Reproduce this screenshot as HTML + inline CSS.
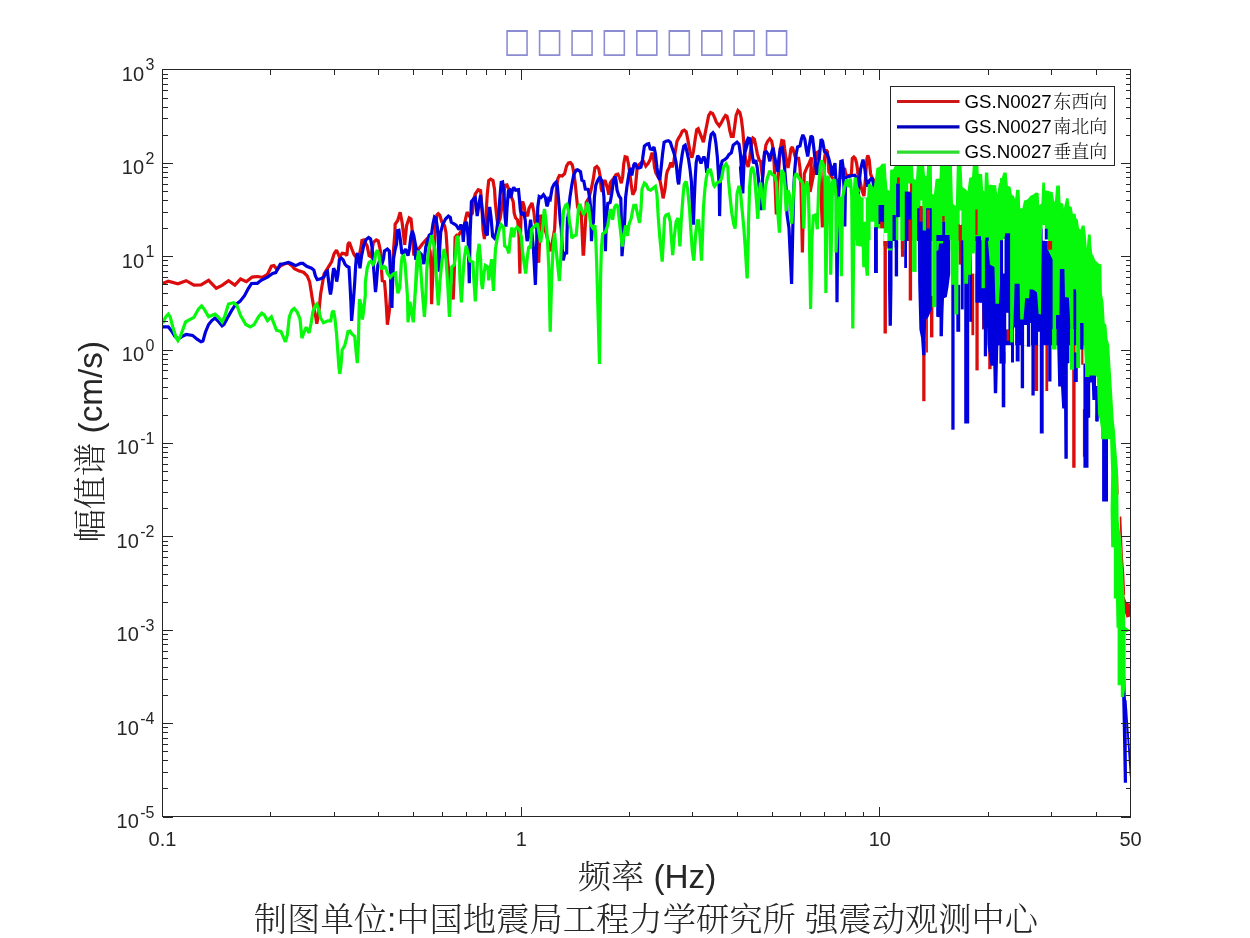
<!DOCTYPE html>
<html lang="zh"><head><meta charset="utf-8"><title>Fourier amplitude spectrum</title>
<style>html,body{margin:0;padding:0;background:#fff}body{width:1250px;height:938px;overflow:hidden}</style></head>
<body>
<svg width="1250" height="938" viewBox="0 0 1250 938" style="display:block">
<rect x="0" y="0" width="1250" height="938" fill="#fff"/>
<clipPath id="c"><rect x="162.5" y="69.5" width="968.0" height="747.0"/></clipPath>
<g clip-path="url(#c)" fill="none" stroke-width="3.2" stroke-linejoin="miter" stroke-miterlimit="2" stroke-linecap="butt">
<path d="M162.6,283.5 L168.3,281.2 L177.9,283.8 L186.2,280.7 L193.9,285.1 L201.0,284.8 L208.6,280.3 L216.3,288.3 L222.1,285.4 L228.5,280.7 L234.9,285.1 L240.6,279.0 L246.4,281.6 L252.2,277.1 L257.3,276.5 L262.4,277.4 L267.5,274.3 L271.4,266.2 L273.9,265.6 L277.1,269.4 L280.3,266.2 L283.5,264.3 L288.0,263.0 L291.8,265.6 L294.4,268.8 L299.5,271.1 L300.0,271.1 L303.8,272.5 L307.2,275.9 L309.6,281.6 L311.0,290.3 L312.5,299.9 L313.9,307.6 L315.8,317.2 L316.8,323.8 L318.0,317.2 L319.2,308.5 L320.6,294.1 L322.6,282.6 L324.0,274.0 L328.8,266.3 L331.7,261.5 L334.1,253.8 L336.5,250.2 L339.4,256.7 L342.2,253.3 L345.1,253.8 L346.8,255.7 L348.0,244.2 L349.4,242.3 L351.8,249.0 L354.2,254.8 L356.2,257.2 L359.0,256.7 L361.0,247.1 L361.9,240.4 L363.8,239.9 L367.2,246.1 L369.1,255.7 L371.0,256.7 L373.4,242.3 L376.3,239.9 L378.2,240.8 L379.7,247.1 L381.1,255.7 L381.6,271.1 L382.3,280.7 L384.5,281.6 L385.4,292.2 L386.4,306.6 L387.4,324.7 L389.3,311.4 L390.7,292.2 L392.2,268.2 L393.6,249.0 L395.0,230.8 L395.1,224.3 L397.7,220.5 L400.2,212.2 L402.2,223.0 L404.7,244.8 L406.6,225.6 L409.2,217.9 L411.0,219.0 L411.9,227.6 L412.9,242.0 L413.8,255.3 L416.7,251.6 L419.6,247.7 L422.5,243.8 L426.3,239.6 L428.2,243.0 L430.2,251.6 L431.1,268.8 L431.6,304.3 L432.6,278.4 L434.0,252.5 L435.4,227.6 L436.9,215.1 L438.3,213.7 L439.8,215.1 L441.7,221.8 L444.6,225.7 L446.0,232.4 L447.0,246.8 L447.4,259.2 L450.3,283.2 L453.2,299.5 L454.4,268.8 L455.1,237.2 L456.6,235.3 L458.0,236.2 L460.9,231.4 L463.8,227.6 L465.7,218.0 L467.1,212.2 L469.5,216.1 L472.4,213.2 L473.8,198.8 L475.3,194.0 L478.2,189.7 L480.6,190.6 L482.0,208.4 L483.0,229.5 L484.4,239.1 L485.8,218.0 L487.3,194.0 L488.7,180.6 L490.6,179.1 L493.0,180.6 L494.5,189.2 L495.4,203.6 L496.9,218.0 L497.8,224.7 L500.2,218.0 L503.1,198.8 L505.0,185.4 L507.0,184.9 L508.4,188.2 L510.3,194.0 L513.2,201.7 L514.2,213.2 L515.6,218.0 L517.5,219.9 L518.5,227.6 L519.0,237.2 L519.4,256.4 L519.9,273.6 L520.4,237.2 L521.4,203.6 L522.8,201.7 L524.2,206.5 L525.2,213.2 L527.6,216.1 L529.0,208.4 L532.0,202.9 L533.9,212.0 L534.9,221.6 L536.8,229.2 L538.7,262.8 L540.6,214.8 L545.0,229.2 L550.7,251.3 L554.6,229.2 L555.0,221.6 L556.5,188.0 L557.9,178.4 L559.4,175.5 L562.2,176.0 L564.6,173.6 L566.6,165.9 L568.5,163.0 L570.4,162.6 L572.3,165.0 L573.8,172.6 L575.2,183.2 L576.6,197.6 L577.6,207.2 L581.4,215.7 L583.1,254.1 L583.6,254.1 L585.8,216.7 L586.2,202.4 L589.1,197.6 L591.5,188.0 L593.4,178.4 L594.9,167.8 L596.8,166.4 L598.7,168.8 L600.2,176.5 L601.1,188.0 L602.1,191.8 L603.5,182.2 L605.0,180.3 L607.4,188.0 L608.8,194.7 L610.2,183.2 L611.2,181.3 L613.6,178.4 L616.0,174.6 L617.9,174.1 L619.8,178.4 L621.3,183.2 L622.7,176.5 L623.7,164.0 L625.1,156.8 L627.0,157.3 L628.5,164.0 L629.9,173.6 L631.4,186.1 L632.8,194.7 L635.2,189.9 L636.2,178.4 L637.1,168.8 L638.6,165.0 L640.6,163.4 L643.4,161.4 L645.8,166.2 L648.2,163.4 L650.2,159.5 L652.1,152.8 L653.5,157.6 L654.5,167.2 L655.9,173.0 L659.8,179.6 L661.7,189.2 L663.1,198.3 L665.0,189.2 L666.5,174.8 L667.4,171.0 L669.4,167.2 L670.8,162.4 L672.2,167.2 L673.7,162.4 L675.1,152.8 L677.0,141.3 L679.0,137.4 L680.4,135.5 L682.3,131.2 L684.2,130.2 L686.2,131.7 L687.6,138.4 L689.0,146.1 L690.5,153.8 L691.9,157.6 L693.4,151.8 L695.3,138.4 L696.7,129.8 L698.2,128.8 L700.1,133.6 L702.0,138.4 L703.4,142.2 L704.9,134.6 L706.8,125.0 L708.7,115.4 L710.6,112.5 L712.6,113.4 L714.5,117.3 L716.4,122.1 L719.3,125.9 L721.2,123.0 L723.6,118.2 L725.5,115.4 L727.0,116.3 L728.4,122.1 L729.8,130.7 L731.3,136.5 L733.2,136.5 L734.6,126.9 L736.1,115.4 L738.0,110.6 L739.9,112.5 L741.4,119.2 L742.8,130.7 L743.8,143.2 L744.7,153.8 L745.8,160.3 L748.2,167.0 L749.6,158.4 L751.0,146.9 L753.0,138.2 L754.4,139.2 L755.8,145.9 L757.3,153.6 L759.2,160.3 L760.6,161.3 L761.6,169.9 L762.6,177.6 L764.0,158.4 L765.9,145.0 L767.8,141.1 L769.8,138.7 L771.7,141.1 L773.1,148.8 L774.1,163.2 L775.0,182.4 L776.3,214.5 L777.4,187.2 L778.9,168.0 L780.3,148.8 L781.8,140.6 L783.7,141.1 L784.6,148.8 L786.1,158.4 L788.0,168.0 L789.4,160.3 L790.9,148.8 L792.3,146.9 L793.8,151.7 L795.7,158.4 L798.6,158.4 L800.0,168.0 L801.0,187.2 L802.4,252.4 L803.4,206.4 L804.3,173.8 L806.7,168.0 L809.1,163.2 L811.5,157.4 L810.6,177.6 L810.1,192.0 L813.0,177.6 L814.9,163.2 L816.8,152.6 L818.2,151.7 L819.7,168.0 L821.1,196.8 L822.4,227.4 L823.5,187.2 L824.5,158.4 L825.9,149.8 L827.4,151.7 L828.3,163.2 L828.8,171.8 L832.2,177.6 L836.0,182.4 L840.8,177.6 L844.6,168.0 L845.6,173.8 L847.5,175.7 L849.9,175.7 L851.4,173.8 L852.3,158.4 L853.8,157.0 L855.2,158.4 L856.6,163.2 L858.1,173.8 L858.0,173.8 L859.6,178.8 L861.5,188.4 L863.9,196.1 L865.4,178.8 L866.8,159.6 L867.8,155.3 L869.2,159.6 L870.6,174.0 L872.6,178.8 L875.0,181.7 L875.7,188.4" stroke="#dc0c0c"/>
<path d="M162.6,326.8 L168.3,326.8 L171.5,330.9 L174.7,336.0 L177.9,339.2 L181.8,336.6 L186.2,334.5 L192.6,335.4 L197.1,339.2 L201.0,341.8 L202.9,341.1 L205.4,332.2 L208.6,324.5 L211.8,320.6 L215.0,318.1 L218.9,321.9 L222.1,325.8 L224.0,324.5 L226.6,319.4 L231.7,310.4 L235.5,304.6 L240.0,301.4 L244.5,295.7 L248.3,288.6 L251.5,283.5 L257.3,283.3 L261.1,280.3 L267.5,277.1 L272.6,273.5 L275.8,272.6 L280.3,264.3 L283.5,263.7 L288.6,262.4 L291.8,263.7 L295.7,265.6 L300.8,263.3 L300.0,263.4 L302.9,263.4 L306.7,266.3 L311.5,268.2 L313.9,270.1 L315.4,275.9 L317.3,279.7 L320.6,278.8 L324.0,276.8 L325.9,272.0 L327.4,271.1 L328.3,278.8 L329.3,287.4 L330.5,294.6 L331.7,287.4 L332.6,275.9 L333.6,268.2 L335.0,271.1 L336.7,281.6 L337.9,274.9 L339.4,259.6 L341.3,258.1 L343.2,260.0 L345.1,264.4 L347.0,266.3 L349.0,267.2 L349.9,282.6 L350.9,301.8 L351.6,320.9 L353.3,301.8 L354.7,282.6 L355.7,265.3 L356.6,254.8 L357.6,253.3 L360.0,268.2 L361.4,256.7 L363.8,245.2 L366.2,239.4 L368.6,237.5 L370.6,238.9 L372.0,247.1 L373.4,265.3 L374.9,284.5 L375.5,292.2 L376.3,284.5 L377.8,265.3 L379.7,260.5 L381.6,265.3 L383.5,258.6 L384.5,250.9 L387.4,249.0 L389.3,250.9 L390.2,268.2 L391.2,292.2 L391.9,308.0 L392.6,282.6 L393.6,258.6 L395.0,250.0 L396.5,244.2 L397.4,230.8 L398.9,230.3 L400.3,239.4 L401.8,252.8 L403.2,253.8 L405.6,249.0 L408.0,255.7 L409.4,249.0 L410.9,236.5 L412.3,230.8 L413.8,235.6 L415.2,243.2 L416.6,250.0 L412.4,231.4 L414.3,242.0 L415.8,259.8 L418.6,251.6 L421.5,254.5 L423.9,264.0 L425.8,246.8 L429.2,235.3 L431.6,233.4 L433.0,223.8 L434.5,217.0 L435.9,218.0 L437.4,227.6 L438.3,237.2 L439.1,271.8 L439.8,246.8 L440.7,232.4 L442.6,224.7 L445.5,219.0 L448.4,216.1 L450.3,217.5 L451.3,222.3 L453.2,223.3 L456.1,225.2 L459.0,229.5 L460.9,224.7 L462.3,227.6 L463.3,242.0 L464.7,223.8 L466.6,221.8 L468.1,237.2 L469.3,283.2 L470.0,237.2 L471.4,201.7 L473.8,198.8 L475.3,197.8 L477.2,216.1 L479.1,203.6 L480.6,195.0 L482.0,208.4 L483.4,220.9 L485.8,233.4 L487.3,235.3 L488.2,218.0 L489.7,207.0 L491.1,218.0 L492.6,236.2 L494.5,238.2 L496.4,232.4 L498.3,218.0 L500.2,194.0 L501.2,182.5 L502.6,182.0 L504.1,194.0 L505.0,216.1 L506.0,226.6 L507.0,208.4 L508.4,191.1 L509.8,190.2 L510.8,197.8 L512.2,191.1 L513.7,187.3 L515.6,190.2 L518.5,189.7 L519.4,198.8 L520.4,210.3 L521.8,215.1 L523.8,212.2 L525.2,219.9 L526.2,232.4 L527.1,241.0 L528.6,237.2 L530.6,219.7 L533.4,248.4 L535.4,284.9 L536.8,238.8 L537.8,207.2 L539.2,196.6 L541.1,197.6 L543.5,194.7 L545.4,197.6 L546.9,206.2 L547.8,204.3 L548.8,198.6 L550.2,199.5 L552.2,188.0 L554.1,184.2 L556.0,182.2 L557.4,186.1 L558.4,197.6 L559.4,209.1 L560.3,221.6 L561.3,229.2 L562.2,248.4 L563.2,260.4 L565.1,252.2 L566.6,254.1 L567.0,234.0 L567.5,217.7 L568.0,216.8 L569.9,197.6 L571.8,185.1 L573.8,174.6 L576.2,170.2 L577.6,169.8 L580.5,171.7 L581.9,180.3 L583.8,181.3 L585.3,189.0 L588.2,189.4 L589.6,197.6 L590.6,207.2 L591.0,224.4 L591.5,241.2 L592.5,224.4 L593.4,222.6 L594.4,197.6 L595.8,185.1 L597.8,180.3 L599.7,177.0 L601.6,180.3 L603.0,188.0 L604.0,197.6 L604.5,216.8 L605.4,251.3 L606.4,216.8 L607.8,203.4 L610.2,202.4 L611.7,193.8 L613.6,180.3 L615.0,176.5 L616.0,180.3 L617.0,189.9 L618.9,195.7 L620.8,198.6 L621.3,216.8 L622.0,256.1 L624.6,221.6 L625.6,197.6 L627.0,186.1 L629.0,173.6 L630.4,167.8 L631.8,175.5 L633.8,165.0 L635.2,163.0 L637.1,167.8 L639.5,167.8 L641.0,167.2 L642.5,159.5 L644.4,146.1 L646.8,144.2 L648.7,143.7 L650.2,149.0 L652.1,149.4 L654.0,147.0 L655.4,153.8 L656.9,167.2 L658.3,176.8 L659.8,179.7 L661.2,167.2 L662.6,153.8 L664.1,142.2 L666.0,141.3 L668.4,140.8 L670.3,142.2 L672.2,148.0 L674.2,153.8 L676.1,162.4 L677.0,172.0 L678.0,181.6 L678.7,184.4 L680.4,167.2 L682.3,153.8 L683.8,146.1 L685.2,145.1 L686.6,149.9 L688.6,159.5 L690.0,169.1 L691.4,181.6 L692.4,208.4 L693.4,224.7 L694.3,198.8 L695.3,176.8 L696.2,162.4 L697.7,155.7 L699.1,157.6 L701.0,163.4 L702.5,159.5 L703.9,156.6 L705.4,160.5 L706.8,172.9 L708.2,157.6 L709.7,143.2 L711.1,134.6 L713.0,132.6 L714.5,134.6 L715.9,143.2 L717.4,157.6 L718.3,172.0 L719.3,189.2 L719.6,216.1 L720.2,189.2 L720.7,167.2 L722.2,161.0 L725.0,159.5 L727.0,157.6 L728.9,154.7 L731.3,152.8 L733.2,145.1 L735.6,143.2 L737.0,142.2 L739.0,144.2 L740.4,153.8 L741.4,167.2 L742.3,179.6 L742.8,193.5 L743.8,167.2 L745.2,148.0 L747.1,140.3 L749.0,138.4 L740.5,168.0 L742.4,192.0 L743.8,158.4 L745.8,144.0 L748.2,138.2 L750.1,138.7 L751.5,148.8 L753.4,163.2 L755.8,160.3 L757.3,168.0 L758.7,181.4 L761.1,210.1 L762.6,177.6 L764.5,152.6 L766.4,151.7 L768.3,154.6 L769.8,161.3 L771.2,153.6 L773.1,147.8 L774.6,156.5 L776.5,166.1 L777.9,171.8 L778.9,158.4 L780.3,148.8 L782.2,147.8 L783.7,158.4 L784.6,168.0 L786.1,187.2 L787.0,214.0 L789.0,228.4 L791.6,284.0 L792.8,228.4 L793.8,187.2 L794.7,170.9 L796.2,153.6 L797.6,146.9 L800.0,145.9 L801.4,139.2 L802.9,134.9 L804.8,139.2 L806.2,148.8 L807.7,156.5 L809.1,146.9 L811.0,135.8 L812.5,137.3 L813.9,148.8 L815.4,163.2 L816.8,174.7 L818.2,168.0 L819.7,153.6 L821.1,139.2 L822.6,141.1 L824.5,151.7 L826.9,153.6 L828.8,158.4 L830.7,166.1 L832.2,175.7 L833.6,168.0 L835.0,163.2 L836.3,187.2 L837.0,302.2 L837.9,206.4 L838.9,193.0 L839.8,177.6 L840.8,161.3 L842.2,160.8 L843.2,168.0 L843.7,182.4 L844.2,191.0 L844.8,226.5 L845.6,177.6 L848.5,176.6 L851.4,175.7 L854.7,175.2 L857.1,178.6 L857.9,199.6 L858.3,226.5 L857.7,225.8 L858.6,188.4 L860.6,169.2 L863.0,159.6 L864.9,169.2 L866.3,181.7 L867.8,186.5 L869.2,180.7 L872.1,177.8 L874.0,186.5 L875.4,190.3" stroke="#0000de"/>
<path d="M162.6,323.2 L165.8,316.8 L168.3,314.0 L170.2,316.8 L172.8,327.0 L176.0,337.3 L177.9,340.5 L180.5,336.0 L185.6,321.9 L190.1,319.4 L193.9,317.4 L198.4,309.1 L201.6,305.9 L204.2,309.1 L208.6,316.8 L215.0,314.2 L218.2,316.8 L222.1,321.9 L224.6,316.8 L228.5,304.0 L233.6,302.7 L236.8,305.3 L240.6,315.5 L245.8,324.5 L250.2,327.0 L254.1,324.5 L258.6,316.8 L261.8,313.2 L264.3,314.9 L267.5,320.6 L271.4,316.8 L273.3,321.9 L276.5,330.2 L281.0,331.5 L283.5,337.3 L285.4,341.8 L287.4,334.7 L289.3,316.8 L291.8,310.4 L294.1,308.5 L297.0,311.7 L300.0,319.0 L301.9,338.2 L304.3,331.5 L306.2,327.2 L309.1,332.9 L311.0,323.8 L313.0,311.3 L315.4,305.6 L316.8,304.1 L318.7,309.4 L320.6,318.0 L323.5,322.8 L327.8,320.9 L330.7,320.9 L332.2,312.3 L333.6,310.8 L335.0,319.0 L336.5,333.4 L337.9,352.6 L338.9,367.0 L339.8,373.7 L340.8,367.0 L342.2,349.7 L344.6,345.9 L346.6,338.2 L348.0,331.5 L349.9,331.0 L352.3,334.4 L354.7,336.3 L356.2,352.6 L357.3,363.2 L358.4,343.0 L359.0,314.2 L359.5,299.3 L361.0,304.6 L362.4,319.5 L363.8,309.4 L365.3,295.0 L365.3,282.6 L367.2,268.2 L369.1,262.4 L371.0,261.0 L373.0,264.4 L374.4,262.4 L375.8,252.8 L377.3,250.4 L378.7,253.8 L380.2,263.4 L381.6,269.2 L384.0,266.3 L385.4,267.2 L387.4,273.0 L390.2,277.3 L393.1,274.0 L395.5,273.0 L396.5,282.6 L397.9,293.2 L399.8,287.4 L401.3,263.4 L402.2,256.7 L403.7,255.7 L405.1,263.4 L406.1,277.8 L407.5,297.0 L408.0,322.3 L409.9,301.8 L411.4,311.4 L413.3,322.3 L414.7,301.8 L415.7,282.6 L416.6,263.4 L418.6,251.9 L412.9,321.6 L414.8,297.6 L416.7,268.8 L418.6,250.6 L420.1,259.2 L422.0,288.0 L424.4,316.8 L425.8,297.6 L426.8,268.8 L428.7,249.6 L431.6,235.3 L435.0,249.6 L436.4,278.4 L438.3,305.3 L440.2,278.4 L442.2,259.2 L444.1,249.1 L446.0,259.2 L447.9,288.0 L449.4,316.8 L450.8,288.0 L451.8,266.9 L454.2,265.0 L455.6,254.4 L457.0,236.3 L458.0,237.2 L459.0,249.6 L459.9,278.4 L461.4,302.4 L462.8,278.4 L464.2,259.2 L466.2,245.8 L467.6,251.5 L470.0,261.1 L472.9,262.1 L473.8,278.4 L475.3,301.4 L476.7,278.4 L477.7,254.4 L479.1,243.8 L480.6,259.2 L481.5,283.2 L482.5,289.0 L483.9,273.6 L485.4,265.4 L487.8,266.9 L488.7,280.3 L490.2,268.8 L491.6,259.2 L492.6,278.4 L493.5,290.9 L494.5,268.8 L495.4,249.6 L497.4,237.2 L499.3,229.5 L501.2,224.7 L503.6,227.6 L504.6,245.8 L507.0,247.7 L508.9,253.4 L510.3,237.2 L511.8,227.6 L513.7,237.2 L515.1,229.5 L517.0,227.1 L519.4,229.5 L521.4,237.2 L522.3,249.6 L524.2,264.0 L525.7,273.6 L527.1,259.2 L528.6,247.7 L529.6,246.5 L530.6,248.4 L531.5,229.2 L534.4,226.3 L537.3,223.4 L539.2,234.0 L540.6,242.6 L542.6,229.2 L544.0,211.9 L544.5,209.1 L545.9,219.6 L547.4,238.8 L548.8,267.6 L550.2,331.8 L551.7,277.2 L553.1,248.4 L554.6,233.0 L556.0,248.4 L557.0,258.0 L559.4,281.0 L560.8,258.0 L562.2,229.2 L563.7,210.0 L565.6,205.3 L567.0,204.3 L568.5,211.1 L569.4,221.6 L570.9,229.2 L571.8,238.3 L573.8,235.9 L576.2,235.0 L577.6,219.6 L578.6,207.2 L580.0,203.9 L581.4,209.1 L583.8,213.9 L585.8,211.1 L587.2,204.3 L588.6,205.3 L589.6,214.9 L590.6,224.4 L593.0,228.2 L594.9,225.4 L595.8,238.8 L596.8,267.6 L599.5,364.0 L600.6,277.2 L601.4,248.4 L602.6,234.0 L605.4,232.1 L607.8,225.4 L609.3,215.8 L610.7,209.1 L612.6,219.7 L614.6,207.2 L616.5,204.3 L617.9,207.2 L618.9,216.8 L620.3,229.2 L622.2,246.5 L624.2,234.0 L625.6,225.4 L627.5,235.9 L629.0,224.4 L631.4,217.7 L632.3,212.0 L633.8,205.3 L635.7,205.3 L637.1,212.0 L639.0,220.7 L639.6,222.8 L641.0,208.4 L642.0,189.2 L644.4,183.0 L646.3,184.4 L648.2,189.2 L650.6,190.2 L653.0,188.2 L655.4,186.3 L656.9,194.0 L658.3,218.0 L659.8,237.2 L662.2,261.6 L663.6,237.2 L664.6,218.0 L666.0,215.1 L668.4,214.2 L670.3,221.8 L671.3,237.2 L672.7,255.0 L674.2,237.2 L676.1,221.8 L678.0,218.0 L679.0,232.4 L679.9,246.3 L681.4,218.0 L682.8,198.8 L684.2,184.4 L686.2,181.5 L687.6,189.2 L689.5,208.4 L691.0,232.4 L692.4,251.6 L693.8,260.6 L695.8,232.4 L697.2,220.9 L698.6,220.9 L700.1,237.2 L701.5,260.6 L702.5,237.2 L703.4,208.4 L704.9,189.2 L706.3,177.7 L708.2,170.0 L710.6,170.1 L712.1,176.8 L713.5,184.5 L714.5,186.3 L717.4,182.5 L720.2,181.5 L721.7,177.7 L723.6,167.2 L726.0,163.9 L727.9,167.2 L728.4,179.6 L729.8,194.0 L731.8,213.2 L733.7,223.8 L735.1,228.6 L736.1,213.2 L737.0,194.0 L739.0,185.8 L740.4,191.1 L741.8,206.5 L743.8,227.6 L745.2,246.8 L747.1,278.4 L748.6,227.6 L747.2,278.2 L748.4,225.6 L749.6,187.2 L751.0,169.9 L752.5,167.0 L754.4,173.8 L755.8,192.0 L757.8,218.8 L759.2,192.0 L760.6,182.4 L762.1,196.8 L764.0,210.1 L765.4,187.2 L767.4,177.6 L769.8,170.9 L772.2,174.7 L774.6,175.7 L776.5,182.4 L777.9,214.0 L779.4,232.7 L780.8,196.8 L781.8,169.9 L783.7,173.8 L785.1,187.2 L786.1,211.1 L788.0,190.1 L789.4,194.9 L791.8,223.6 L793.3,196.8 L794.7,177.6 L796.2,173.3 L797.6,175.7 L800.0,179.5 L802.4,182.4 L803.8,228.4 L805.3,187.2 L806.7,181.4 L808.2,187.2 L809.1,218.8 L810.6,308.9 L812.0,238.0 L813.4,215.9 L815.8,214.9 L817.3,229.3 L818.7,187.2 L820.2,166.1 L821.6,160.3 L823.5,165.1 L825.0,177.6 L825.9,293.1 L827.4,187.2 L828.3,175.7 L829.8,187.2 L830.7,274.8 L832.6,181.4 L834.6,179.5 L836.0,196.8 L836.0,252.5 L837.9,206.4 L839.8,196.8 L841.3,276.3 L842.7,196.8 L844.6,187.2 L846.6,179.5 L848.5,187.2 L850.4,178.6 L851.8,196.8 L852.8,328.6 L854.2,196.8 L855.2,177.6 L856.6,187.2 L859.0,192.0" stroke="#06f80a"/>
</g>
<g clip-path="url(#c)" stroke="none">
<path d="M883.5,217.6 L886.9,217.6 L886.9,333.5 L883.5,333.5Z" fill="#dc0c0c"/>
<path d="M900.9,228.8 L904.2,228.8 L904.2,256.8 L900.9,256.8Z" fill="#dc0c0c"/>
<path d="M908.7,206.4 L912.1,206.4 L912.1,300.5 L908.7,300.5Z" fill="#dc0c0c"/>
<path d="M926.1,307.2 L927.9,307.2 L927.9,352.4 L926.1,352.4Z" fill="#dc0c0c"/>
<path d="M930.0,296.0 L933.4,296.0 L933.4,337.4 L930.0,337.4Z" fill="#dc0c0c"/>
<path d="M922.2,340.8 L925.5,340.8 L925.5,401.2 L922.2,401.2Z" fill="#dc0c0c"/>
<path d="M958.6,228.8 L961.4,228.8 L961.4,264.6 L958.6,264.6Z" fill="#dc0c0c"/>
<path d="M971.4,273.6 L974.2,273.6 L974.2,335.2 L971.4,335.2Z" fill="#dc0c0c"/>
<path d="M975.4,273.6 L978.7,273.6 L978.7,370.4 L975.4,370.4Z" fill="#dc0c0c"/>
<path d="M982.1,284.8 L983.8,284.8 L983.8,329.6 L982.1,329.6Z" fill="#dc0c0c"/>
<path d="M988.2,318.8 L991.6,318.8 L991.6,369.2 L988.2,369.2Z" fill="#dc0c0c"/>
<path d="M1007.3,307.6 L1010.1,307.6 L1010.1,340.6 L1007.3,340.6Z" fill="#dc0c0c"/>
<path d="M1034.2,318.8 L1038.1,318.8 L1038.1,391.0 L1034.2,391.0Z" fill="#dc0c0c"/>
<path d="M1045.4,318.8 L1048.2,318.8 L1048.2,391.0 L1045.4,391.0Z" fill="#dc0c0c"/>
<path d="M1072.2,318.8 L1075.6,318.8 L1075.6,467.8 L1072.2,467.8Z" fill="#dc0c0c"/>
<path d="M1081.2,318.8 L1083.4,318.8 L1083.4,364.7 L1081.2,364.7Z" fill="#dc0c0c"/>
<path d="M1082.9,409.3 L1086.1,409.3 L1086.1,456.8 L1082.9,456.8Z" fill="#dc0c0c"/>
<path d="M1006.2,273.6 L1009.5,273.6 L1009.5,340.8 L1006.2,340.8Z" fill="#dc0c0c"/>
<path d="M1024.6,273.6 L1026.5,273.6 L1026.5,322.9 L1024.6,322.9Z" fill="#dc0c0c"/>
<path d="M1037.0,318.4 L1038.6,318.4 L1038.6,338.6 L1037.0,338.6Z" fill="#dc0c0c"/>
<path d="M1042.6,249.0 L1052.1,249.0 L1052.1,284.8 L1042.6,284.8Z" fill="#dc0c0c"/>
<path d="M1119.7,516.4 L1121.3,516.4 L1122.9,555.8 L1124.3,574.0 L1125.2,595.3 L1122.9,595.3 L1119.7,520.7Z" fill="#dc0c0c"/>
<path d="M1124.0,595.3 L1126.6,602.8 L1130.4,603.8 L1130.4,616.6 L1126.6,617.7 L1124.0,610.0Z" fill="#dc0c0c"/>
<path d="M1113.3,452.0 L1116.0,456.2 L1118.1,475.4 L1118.6,494.6 L1115.4,494.6Z" fill="#dc0c0c"/>
<path d="M874.0,206.4 L877.9,206.4 L877.9,273.0 L874.0,273.0Z" fill="#0000de"/>
<path d="M888.0,228.8 L892.5,228.8 L892.5,284.8 L891.9,325.7 L888.6,325.7 L888.0,284.8Z" fill="#0000de"/>
<path d="M894.7,206.4 L898.1,206.4 L898.1,276.4 L894.7,276.4Z" fill="#0000de"/>
<path d="M904.2,195.2 L907.0,195.2 L907.0,268.0 L904.2,268.0Z" fill="#0000de"/>
<path d="M917.7,217.6 L931.7,217.6 L931.7,309.4 L928.3,317.3 L926.1,319.5 L925.5,355.2 L922.2,355.2 L921.0,337.4 L919.4,329.6 L918.2,282.6Z" fill="#0000de"/>
<path d="M936.2,228.8 L950.2,228.8 L950.2,273.6 L948.5,287.0 L946.8,297.1 L944.0,298.2 L943.4,313.9 L942.9,336.3 L939.5,336.3 L939.5,317.3 L936.2,316.7Z" fill="#0000de"/>
<path d="M951.3,228.8 L954.6,228.8 L954.6,429.7 L951.3,429.7Z" fill="#0000de"/>
<path d="M956.3,284.8 L960.2,284.8 L960.2,331.8 L956.3,331.8Z" fill="#0000de"/>
<path d="M960.8,228.8 L963.7,228.8 L963.7,309.4 L960.8,309.4Z" fill="#0000de"/>
<path d="M964.2,228.8 L969.2,228.8 L969.2,423.6 L964.2,423.6Z" fill="#0000de"/>
<path d="M969.2,251.2 L972.0,251.2 L972.0,321.8 L969.2,321.8Z" fill="#0000de"/>
<path d="M975.4,228.8 L981.5,228.8 L981.5,302.7 L975.4,302.7Z" fill="#0000de"/>
<path d="M980.4,228.8 L1000.0,228.8 L1000.0,345.1 L987.7,345.1 L987.1,327.4 L984.3,327.4 L982.6,329.6 L982.1,302.7 L980.4,302.7Z" fill="#0000de"/>
<path d="M983.8,318.8 L987.1,318.8 L987.1,356.3 L983.8,356.3Z" fill="#0000de"/>
<path d="M987.7,318.8 L1000.0,318.8 L1000.0,344.6 L998.3,345.7 L997.2,393.3 L993.8,393.3 L993.3,365.8 L990.5,365.8 L987.7,346.8Z" fill="#0000de"/>
<path d="M999.4,296.4 L1005.6,296.4 L1005.6,363.6 L999.4,363.6Z" fill="#0000de"/>
<path d="M1001.7,352.4 L1005.3,352.4 L1005.3,407.3 L1001.7,407.3Z" fill="#0000de"/>
<path d="M1011.0,318.8 L1014.0,318.8 L1014.0,362.5 L1011.0,362.5Z" fill="#0000de"/>
<path d="M1015.7,318.8 L1019.6,318.8 L1019.6,361.4 L1015.7,361.4Z" fill="#0000de"/>
<path d="M1020.7,318.8 L1024.1,318.8 L1024.1,388.2 L1020.7,388.2Z" fill="#0000de"/>
<path d="M1026.9,318.8 L1030.2,318.8 L1030.2,346.8 L1026.9,346.8Z" fill="#0000de"/>
<path d="M1031.4,318.8 L1034.7,318.8 L1034.7,395.5 L1031.4,395.5Z" fill="#0000de"/>
<path d="M1039.8,318.8 L1043.7,318.8 L1043.7,433.6 L1039.8,433.6Z" fill="#0000de"/>
<path d="M1048.2,318.8 L1051.5,318.8 L1051.5,381.5 L1048.2,381.5Z" fill="#0000de"/>
<path d="M1056.6,318.8 L1069.4,318.8 L1069.4,363.0 L1067.8,363.6 L1067.8,458.8 L1064.4,458.8 L1064.1,408.4 L1062.2,408.4 L1061.0,386.6 L1058.2,386.6Z" fill="#0000de"/>
<path d="M1073.9,352.4 L1077.8,352.4 L1077.8,382.1 L1073.9,382.1Z" fill="#0000de"/>
<path d="M1080.1,318.8 L1083.4,318.8 L1083.4,349.6 L1080.1,349.6Z" fill="#0000de"/>
<path d="M1083.4,363.6 L1096.3,363.6 L1095.8,400.0 L1092.4,400.0 L1091.8,382.6 L1090.2,382.6 L1090.2,417.4 L1088.5,417.9 L1088.5,467.8 L1083.4,467.8Z" fill="#0000de"/>
<path d="M1095.2,386.0 L1098.6,386.0 L1098.6,421.3 L1095.2,421.3Z" fill="#0000de"/>
<path d="M1102.1,430.7 L1108.0,430.7 L1108.0,501.6 L1102.1,501.6Z" fill="#0000de"/>
<path d="M1095.7,414.7 L1098.4,414.7 L1098.4,421.6 L1095.7,421.6Z" fill="#0000de"/>
<path d="M998.9,217.6 L1071.7,217.6 L1076.2,289.3 L1083.4,322.9 L1083.4,345.3 L998.9,345.3Z" fill="#0000de"/>
<path d="M1038.1,318.8 L1052.6,318.8 L1052.6,339.0 L1038.1,339.0Z" fill="#0000de"/>
<path d="M1121.8,677.2 L1125.2,677.2 L1126.6,722.0 L1127.0,782.8 L1123.8,782.8 L1123.1,743.3Z" fill="#0000de"/>
<path d="M1124.5,696.4 L1126.6,700.7 L1131.6,774.2 L1129.8,776.4Z" fill="#0000de"/>
<path d="M855.0,177.5 L856.9,188.4 L861.4,197.4 L867.2,197.4 L867.8,184.6 L870.4,183.3 L873.6,187.8 L875.5,175.6 L876.4,167.9 L879.3,167.0 L881.9,163.8 L885.7,163.4 L886.4,176.9 L887.6,189.7 L889.6,191.0 L890.2,169.8 L893.4,169.2 L896.0,162.8 L905.9,161.2 L912.6,161.2 L913.8,179.1 L916.0,179.7 L917.1,161.2 L923.8,161.2 L925.0,175.8 L926.6,175.8 L927.2,161.2 L931.7,161.2 L932.2,193.7 L933.9,194.8 L935.6,179.1 L939.5,178.6 L940.1,161.2 L951.8,161.2 L953.0,203.8 L955.8,206.0 L956.9,161.2 L961.4,161.2 L962.5,187.0 L965.8,189.2 L967.5,191.4 L969.2,178.0 L972.0,176.9 L973.1,161.2 L978.2,161.2 L978.7,174.1 L982.1,174.1 L983.2,190.3 L984.3,191.4 L984.9,172.4 L988.2,172.4 L988.8,184.7 L996.1,185.3 L997.2,194.8 L998.9,183.6 L1000.0,182.5 L1000.0,178.0 L1001.7,178.0 L1003.4,172.4 L1006.7,172.4 L1007.8,185.8 L1010.6,187.0 L1011.8,194.8 L1014.0,195.9 L1015.1,199.3 L1016.2,189.8 L1019.6,189.8 L1020.2,208.2 L1022.4,208.2 L1024.1,200.4 L1026.9,199.8 L1028.6,198.2 L1030.2,195.9 L1033.6,194.2 L1035.8,192.6 L1038.6,193.1 L1039.2,204.9 L1041.4,203.8 L1042.3,182.5 L1044.8,182.5 L1045.4,190.3 L1048.7,190.9 L1049.8,191.4 L1052.6,192.0 L1053.8,199.3 L1054.9,202.6 L1056.0,187.0 L1056.6,185.6 L1059.9,185.6 L1060.5,202.6 L1063.3,203.8 L1063.8,208.8 L1066.1,198.2 L1068.5,198.2 L1069.4,206.0 L1071.7,207.1 L1072.8,213.8 L1075.6,213.8 L1076.2,218.3 L1077.8,219.4 L1079.0,228.4 L1080.6,229.5 L1081.8,225.6 L1084.6,225.6 L1085.7,234.0 L1086.8,248.6 L1087.9,234.6 L1090.7,234.6 L1091.3,245.2 L1092.4,255.1 L1093.0,254.6 L1095.2,260.2 L1098.6,263.5 L1101.4,264.6 L1101.9,293.8 L1103.6,302.7 L1104.7,322.9 L1106.4,325.1 L1107.5,338.6 L1109.2,345.1 L1109.2,344.6 L1110.3,363.6 L1112.0,391.6 L1113.7,419.6 L1115.4,435.1 L1114.9,430.7 L1118.1,473.3 L1118.6,520.0 L1121.8,547.3 L1124.5,598.5 L1125.0,610.0 L1125.2,626.7 L1130.4,630.4 L1125.6,632.5 L1125.6,685.3 L1124.0,697.0 L1120.8,697.0 L1120.8,685.3 L1117.6,685.3 L1117.6,627.7 L1116.5,627.7 L1116.0,600.0 L1116.0,598.5 L1113.8,598.5 L1113.8,547.3 L1111.2,547.3 L1110.6,510.0 L1111.2,473.3 L1110.1,439.2 L1101.0,439.2 L1101.0,420.0 L1101.9,435.1 L1099.7,419.6 L1098.0,414.0 L1096.9,377.0 L1095.2,375.4 L1089.6,375.4 L1089.6,377.0 L1085.1,377.0 L1085.1,369.2 L1083.4,330.0 L1084.0,345.1 L1084.0,322.9 L1080.1,322.9 L1080.1,345.1 L1076.2,345.1 L1076.2,289.3 L1073.4,289.3 L1073.4,345.1 L1070.6,345.1 L1070.0,318.4 L1068.9,297.7 L1065.0,297.1 L1064.4,269.1 L1059.9,269.1 L1059.4,315.0 L1056.0,315.0 L1056.0,345.1 L1052.6,345.1 L1052.6,259.6 L1047.6,249.0 L1047.6,228.8 L1042.0,228.8 L1041.4,271.4 L1040.9,314.5 L1038.6,313.9 L1037.0,292.6 L1033.6,289.8 L1029.7,289.3 L1029.1,298.2 L1025.2,298.2 L1024.1,311.7 L1023.5,319.5 L1020.2,319.5 L1019.6,283.7 L1014.6,283.7 L1013.4,326.2 L1010.6,340.8 L1010.1,345.1 L1010.1,233.3 L1004.5,233.3 L1004.5,236.2 L1002.8,236.2 L1002.8,221.7 L1005.0,221.7 L1005.0,240.3 L1000.0,240.3 L855.0,240.3Z" fill="#06f80a"/>
<path d="M855.5,238.9 L869.5,238.9 L869.5,240.0 L869.0,275.8 L865.6,275.8 L865.0,267.4 L862.2,266.9 L861.7,246.7 L855.5,245.6Z" fill="#06f80a"/>
<path d="M884.1,238.9 L893.0,238.9 L892.5,250.6 L888.0,250.6 L887.4,246.2 L884.6,246.2Z" fill="#06f80a"/>
<path d="M900.9,238.9 L904.2,238.9 L904.2,249.5 L900.9,249.5Z" fill="#06f80a"/>
<path d="M912.1,238.9 L916.6,238.9 L916.6,271.9 L912.1,271.9Z" fill="#06f80a"/>
<path d="M932.2,238.9 L936.2,238.9 L936.2,307.2 L932.2,307.2Z" fill="#06f80a"/>
<path d="M936.2,238.9 L943.4,238.9 L942.9,243.4 L939.0,243.4 L938.4,250.1 L936.2,251.2Z" fill="#06f80a"/>
<path d="M950.7,238.9 L958.6,238.9 L958.3,314.5 L954.6,314.5 L954.4,284.8 L950.9,284.8Z" fill="#06f80a"/>
<path d="M963.6,238.9 L975.4,238.9 L974.8,253.4 L972.0,253.4 L971.4,274.7 L968.4,274.7 L968.1,283.7 L964.2,283.7Z" fill="#06f80a"/>
<path d="M981.5,238.9 L984.9,238.9 L984.9,288.2 L981.5,288.2Z" fill="#06f80a"/>
<path d="M987.7,238.9 L1000.0,238.9 L1000.0,284.8 L998.9,303.8 L995.5,303.8 L994.4,266.9 L989.9,264.6Z" fill="#06f80a"/>
<path d="M1010.1,328.9 L1013.4,328.9 L1013.4,342.3 L1010.1,342.3Z" fill="#06f80a"/>
<path d="M1052.1,328.9 L1056.6,328.9 L1056.6,349.6 L1052.1,349.6Z" fill="#06f80a"/>
<path d="M1070.0,328.9 L1073.9,328.9 L1073.9,369.8 L1070.0,369.8Z" fill="#06f80a"/>
<path d="M1076.2,328.9 L1080.1,328.9 L1080.1,368.1 L1076.2,368.1Z" fill="#06f80a"/>
<path d="M863.6,198.2 L865.8,198.2 L865.8,221.7 L863.6,221.7Z" fill="#ffffff"/>
<path d="M870.6,221.7 L874.2,221.7 L874.2,240.9 L870.6,240.9Z" fill="#ffffff"/>
<path d="M874.0,227.3 L877.9,227.3 L877.9,240.9 L874.0,240.9Z" fill="#0000de"/>
<path d="M878.5,204.9 L884.1,204.9 L884.1,223.9 L878.5,223.9Z" fill="#0000de"/>
<path d="M880.2,221.7 L884.1,221.7 L884.1,228.4 L880.2,228.4Z" fill="#dc0c0c"/>
<path d="M884.1,232.9 L887.4,232.9 L887.4,240.9 L884.1,240.9Z" fill="#ffffff"/>
<path d="M883.5,246.3 L886.9,246.3 L886.9,240.9 L883.5,240.9Z" fill="#dc0c0c"/>
<path d="M887.4,248.6 L892.5,248.6 L892.5,240.9 L887.4,240.9Z" fill="#0000de"/>
<path d="M892.5,215.0 L895.8,215.0 L895.8,240.9 L892.5,240.9Z" fill="#0000de"/>
<path d="M896.1,183.6 L899.8,183.6 L899.8,217.2 L896.1,217.2Z" fill="#0000de"/>
<path d="M897.0,177.4 L899.8,177.4 L899.8,183.6 L897.0,183.6Z" fill="#dc0c0c"/>
<path d="M898.4,217.2 L900.3,217.2 L900.3,240.9 L898.4,240.9Z" fill="#ffffff"/>
<path d="M894.7,247.4 L898.1,247.4 L898.1,240.9 L894.7,240.9Z" fill="#0000de"/>
<path d="M900.9,249.7 L904.2,249.7 L904.2,240.9 L900.9,240.9Z" fill="#dc0c0c"/>
<path d="M904.8,191.4 L911.7,191.4 L911.7,240.9 L904.8,240.9Z" fill="#0000de"/>
<path d="M909.8,183.6 L912.1,183.6 L912.1,192.6 L909.8,192.6Z" fill="#dc0c0c"/>
<path d="M908.2,183.6 L909.8,183.6 L909.8,191.4 L908.2,191.4Z" fill="#ffffff"/>
<path d="M908.4,219.4 L912.1,219.4 L912.1,240.9 L908.4,240.9Z" fill="#dc0c0c"/>
<path d="M917.1,208.2 L931.7,208.2 L931.7,240.9 L917.1,240.9Z" fill="#0000de"/>
<path d="M919.4,206.0 L922.7,206.0 L922.7,221.7 L919.4,221.7Z" fill="#dc0c0c"/>
<path d="M920.5,200.4 L922.2,200.4 L922.2,206.0 L920.5,206.0Z" fill="#ffffff"/>
<path d="M922.7,206.0 L926.1,206.0 L926.1,230.6 L922.7,230.6Z" fill="#06f80a"/>
<path d="M926.6,209.4 L930.0,209.4 L930.0,228.4 L926.6,228.4Z" fill="#dc0c0c"/>
<path d="M936.2,235.1 L949.6,235.1 L949.6,240.9 L936.2,240.9Z" fill="#0000de"/>
<path d="M942.3,221.7 L945.1,221.7 L945.1,235.1 L942.3,235.1Z" fill="#0000de"/>
<path d="M942.3,216.1 L944.6,216.1 L944.6,221.7 L942.3,221.7Z" fill="#dc0c0c"/>
<path d="M932.2,228.4 L936.2,228.4 L936.2,240.9 L932.2,240.9Z" fill="#06f80a"/>
<path d="M958.6,223.9 L961.9,223.9 L961.9,240.9 L958.6,240.9Z" fill="#dc0c0c"/>
<path d="M959.7,210.5 L961.4,210.5 L961.4,225.0 L959.7,225.0Z" fill="#ffffff"/>
<path d="M975.4,209.4 L977.6,209.4 L977.6,235.1 L975.4,235.1Z" fill="#dc0c0c"/>
<path d="M975.4,236.2 L981.0,236.2 L981.0,240.9 L975.4,240.9Z" fill="#0000de"/>
<path d="M985.4,237.4 L988.8,237.4 L988.8,240.9 L985.4,240.9Z" fill="#0000de"/>
<path d="M950.7,250.8 L958.6,250.8 L958.6,240.9 L950.7,240.9Z" fill="#06f80a"/>
<path d="M1042.6,225.0 L1044.8,225.0 L1044.8,240.7 L1042.6,240.7Z" fill="#ffffff"/>
<path d="M1044.8,239.6 L1048.2,239.6 L1048.2,240.9 L1044.8,240.9Z" fill="#ffffff"/>
<path d="M1047.0,249.7 L1052.1,249.7 L1052.1,240.9 L1047.0,240.9Z" fill="#dc0c0c"/>
<path d="M1004.5,236.2 L1009.5,236.2 L1009.5,240.9 L1004.5,240.9Z" fill="#0000de"/>
<path d="M1014.0,327.4 L1015.1,327.4 L1015.1,345.3 L1014.0,345.3Z" fill="#ffffff"/>
<path d="M1024.1,325.1 L1026.9,325.1 L1026.9,345.3 L1024.1,345.3Z" fill="#ffffff"/>
<path d="M1030.1,322.9 L1030.9,322.9 L1030.9,345.3 L1030.1,345.3Z" fill="#ffffff"/>
<path d="M1038.1,331.8 L1039.8,331.8 L1039.8,345.3 L1038.1,345.3Z" fill="#ffffff"/>
<path d="M1006.2,312.8 L1008.4,312.8 L1008.4,329.6 L1006.2,329.6Z" fill="#ffffff"/>
<path d="M1006.7,329.6 L1009.5,329.6 L1009.5,340.8 L1006.7,340.8Z" fill="#dc0c0c"/>
<path d="M1003.1,238.9 L1004.5,238.9 L1004.5,273.6 L1003.1,273.6Z" fill="#ffffff"/>
<path d="M877.9,228.4 L883.7,228.4 L883.7,240.9 L877.9,240.9Z" fill="#ffffff"/>
</g>
<g stroke="#262626" stroke-width="1" fill="none" shape-rendering="crispEdges">
<rect x="162.5" y="69.5" width="968.0" height="747.0"/>
<path d="M162.5,817.5h10 M1130.5,817.5h-10 M162.5,788.5h5 M1130.5,788.5h-5 M162.5,772.5h5 M1130.5,772.5h-5 M162.5,760.5h5 M1130.5,760.5h-5 M162.5,751.5h5 M1130.5,751.5h-5 M162.5,744.5h5 M1130.5,744.5h-5 M162.5,738.5h5 M1130.5,738.5h-5 M162.5,732.5h5 M1130.5,732.5h-5 M162.5,727.5h5 M1130.5,727.5h-5 M162.5,723.5h10 M1130.5,723.5h-10 M162.5,695.5h5 M1130.5,695.5h-5 M162.5,679.5h5 M1130.5,679.5h-5 M162.5,667.5h5 M1130.5,667.5h-5 M162.5,658.5h5 M1130.5,658.5h-5 M162.5,651.5h5 M1130.5,651.5h-5 M162.5,644.5h5 M1130.5,644.5h-5 M162.5,639.5h5 M1130.5,639.5h-5 M162.5,634.5h5 M1130.5,634.5h-5 M162.5,630.5h10 M1130.5,630.5h-10 M162.5,602.5h5 M1130.5,602.5h-5 M162.5,585.5h5 M1130.5,585.5h-5 M162.5,574.5h5 M1130.5,574.5h-5 M162.5,565.5h5 M1130.5,565.5h-5 M162.5,557.5h5 M1130.5,557.5h-5 M162.5,551.5h5 M1130.5,551.5h-5 M162.5,545.5h5 M1130.5,545.5h-5 M162.5,541.5h5 M1130.5,541.5h-5 M162.5,536.5h10 M1130.5,536.5h-10 M162.5,508.5h5 M1130.5,508.5h-5 M162.5,492.5h5 M1130.5,492.5h-5 M162.5,480.5h5 M1130.5,480.5h-5 M162.5,471.5h5 M1130.5,471.5h-5 M162.5,464.5h5 M1130.5,464.5h-5 M162.5,457.5h5 M1130.5,457.5h-5 M162.5,452.5h5 M1130.5,452.5h-5 M162.5,447.5h5 M1130.5,447.5h-5 M162.5,443.5h10 M1130.5,443.5h-10 M162.5,415.5h5 M1130.5,415.5h-5 M162.5,398.5h5 M1130.5,398.5h-5 M162.5,387.5h5 M1130.5,387.5h-5 M162.5,378.5h5 M1130.5,378.5h-5 M162.5,370.5h5 M1130.5,370.5h-5 M162.5,364.5h5 M1130.5,364.5h-5 M162.5,359.5h5 M1130.5,359.5h-5 M162.5,354.5h5 M1130.5,354.5h-5 M162.5,350.5h10 M1130.5,350.5h-10 M162.5,321.5h5 M1130.5,321.5h-5 M162.5,305.5h5 M1130.5,305.5h-5 M162.5,293.5h5 M1130.5,293.5h-5 M162.5,284.5h5 M1130.5,284.5h-5 M162.5,277.5h5 M1130.5,277.5h-5 M162.5,271.5h5 M1130.5,271.5h-5 M162.5,265.5h5 M1130.5,265.5h-5 M162.5,260.5h5 M1130.5,260.5h-5 M162.5,256.5h10 M1130.5,256.5h-10 M162.5,228.5h5 M1130.5,228.5h-5 M162.5,212.5h5 M1130.5,212.5h-5 M162.5,200.5h5 M1130.5,200.5h-5 M162.5,191.5h5 M1130.5,191.5h-5 M162.5,184.5h5 M1130.5,184.5h-5 M162.5,177.5h5 M1130.5,177.5h-5 M162.5,172.5h5 M1130.5,172.5h-5 M162.5,167.5h5 M1130.5,167.5h-5 M162.5,163.5h10 M1130.5,163.5h-10 M162.5,135.5h5 M1130.5,135.5h-5 M162.5,118.5h5 M1130.5,118.5h-5 M162.5,107.5h5 M1130.5,107.5h-5 M162.5,98.5h5 M1130.5,98.5h-5 M162.5,90.5h5 M1130.5,90.5h-5 M162.5,84.5h5 M1130.5,84.5h-5 M162.5,78.5h5 M1130.5,78.5h-5 M162.5,74.5h5 M1130.5,74.5h-5 M162.5,69.5h10 M1130.5,69.5h-10 M162.5,816.5v-10 M162.5,69.5v10 M270.5,816.5v-5 M270.5,69.5v5 M334.5,816.5v-5 M334.5,69.5v5 M378.5,816.5v-5 M378.5,69.5v5 M413.5,816.5v-5 M413.5,69.5v5 M442.5,816.5v-5 M442.5,69.5v5 M466.5,816.5v-5 M466.5,69.5v5 M486.5,816.5v-5 M486.5,69.5v5 M505.5,816.5v-5 M505.5,69.5v5 M521.5,816.5v-10 M521.5,69.5v10 M629.5,816.5v-5 M629.5,69.5v5 M692.5,816.5v-5 M692.5,69.5v5 M737.5,816.5v-5 M737.5,69.5v5 M772.5,816.5v-5 M772.5,69.5v5 M800.5,816.5v-5 M800.5,69.5v5 M824.5,816.5v-5 M824.5,69.5v5 M845.5,816.5v-5 M845.5,69.5v5 M863.5,816.5v-5 M863.5,69.5v5 M879.5,816.5v-10 M879.5,69.5v10 M988.5,816.5v-5 M988.5,69.5v5 M1051.5,816.5v-5 M1051.5,69.5v5 M1096.5,816.5v-5 M1096.5,69.5v5"/>
</g>
<g font-family="'Liberation Sans', sans-serif" fill="#262626">
<text x="154.5" y="828.0" text-anchor="end" font-size="20"><tspan>10</tspan><tspan font-size="16" dy="-10.5" dx="1.5">-5</tspan></text>
<text x="154.5" y="734.6" text-anchor="end" font-size="20"><tspan>10</tspan><tspan font-size="16" dy="-10.5" dx="1.5">-4</tspan></text>
<text x="154.5" y="641.2" text-anchor="end" font-size="20"><tspan>10</tspan><tspan font-size="16" dy="-10.5" dx="1.5">-3</tspan></text>
<text x="154.5" y="547.8" text-anchor="end" font-size="20"><tspan>10</tspan><tspan font-size="16" dy="-10.5" dx="1.5">-2</tspan></text>
<text x="154.5" y="454.4" text-anchor="end" font-size="20"><tspan>10</tspan><tspan font-size="16" dy="-10.5" dx="1.5">-1</tspan></text>
<text x="154.5" y="361.0" text-anchor="end" font-size="20"><tspan>10</tspan><tspan font-size="16" dy="-10.5" dx="1.5">0</tspan></text>
<text x="154.5" y="267.6" text-anchor="end" font-size="20"><tspan>10</tspan><tspan font-size="16" dy="-10.5" dx="1.5">1</tspan></text>
<text x="154.5" y="174.2" text-anchor="end" font-size="20"><tspan>10</tspan><tspan font-size="16" dy="-10.5" dx="1.5">2</tspan></text>
<text x="154.5" y="80.8" text-anchor="end" font-size="20"><tspan>10</tspan><tspan font-size="16" dy="-10.5" dx="1.5">3</tspan></text>
<text x="162.5" y="846" text-anchor="middle" font-size="20">0.1</text>
<text x="521.2" y="846" text-anchor="middle" font-size="20">1</text>
<text x="879.8" y="846" text-anchor="middle" font-size="20">10</text>
<text x="1130.5" y="846" text-anchor="middle" font-size="20">50</text>
</g>
<text x="647" y="888.3" text-anchor="middle" font-size="33.3" font-weight="300" fill="#262626" style="font-family:'Liberation Sans', 'Noto Serif CJK SC', serif">频率 (Hz)</text>
<text transform="translate(102,441.8) rotate(-90)" text-anchor="middle" font-size="33.3" font-weight="300" fill="#262626" style="font-family:'Liberation Sans', 'Noto Serif CJK SC', serif">幅值谱 (cm/s)</text>
<text x="646" y="931.1" text-anchor="middle" font-size="33.3" font-weight="300" fill="#262626" style="font-family:'Liberation Sans', 'Noto Serif CJK SC', serif">制图单位:中国地震局工程力学研究所 强震动观测中心</text>
<g transform="scale(1.2739,1.5730)"><text x="395.53 420.98 446.43 471.88 497.33 522.78 548.23 573.67 599.12" y="32.99" font-size="22.0" fill="#8c8cd2" style="font-family:'DejaVu Sans',sans-serif">□□□□□□□□□</text></g>
<rect x="890.5" y="86.5" width="224" height="79" fill="#fff" stroke="#262626" stroke-width="1" shape-rendering="crispEdges"/>
<line x1="897" x2="959.5" y1="101.5" y2="101.5" stroke="#cf1616" stroke-width="3.2"/>
<text x="964.5" y="107.8" font-size="18.7" font-weight="300" fill="#000" style="font-family:'Liberation Sans', 'Noto Serif CJK SC', serif">GS.N0027<tspan dx="1.4" font-size="18">东西向</tspan></text>
<line x1="897" x2="959.5" y1="126.8" y2="126.8" stroke="#0000bd" stroke-width="3.2"/>
<text x="964.5" y="133.1" font-size="18.7" font-weight="300" fill="#000" style="font-family:'Liberation Sans', 'Noto Serif CJK SC', serif">GS.N0027<tspan dx="1.4" font-size="18">南北向</tspan></text>
<line x1="897" x2="959.5" y1="152.1" y2="152.1" stroke="#2cdd2c" stroke-width="3.2"/>
<text x="964.5" y="158.4" font-size="18.7" font-weight="300" fill="#000" style="font-family:'Liberation Sans', 'Noto Serif CJK SC', serif">GS.N0027<tspan dx="1.4" font-size="18">垂直向</tspan></text>
</svg>
</body></html>
